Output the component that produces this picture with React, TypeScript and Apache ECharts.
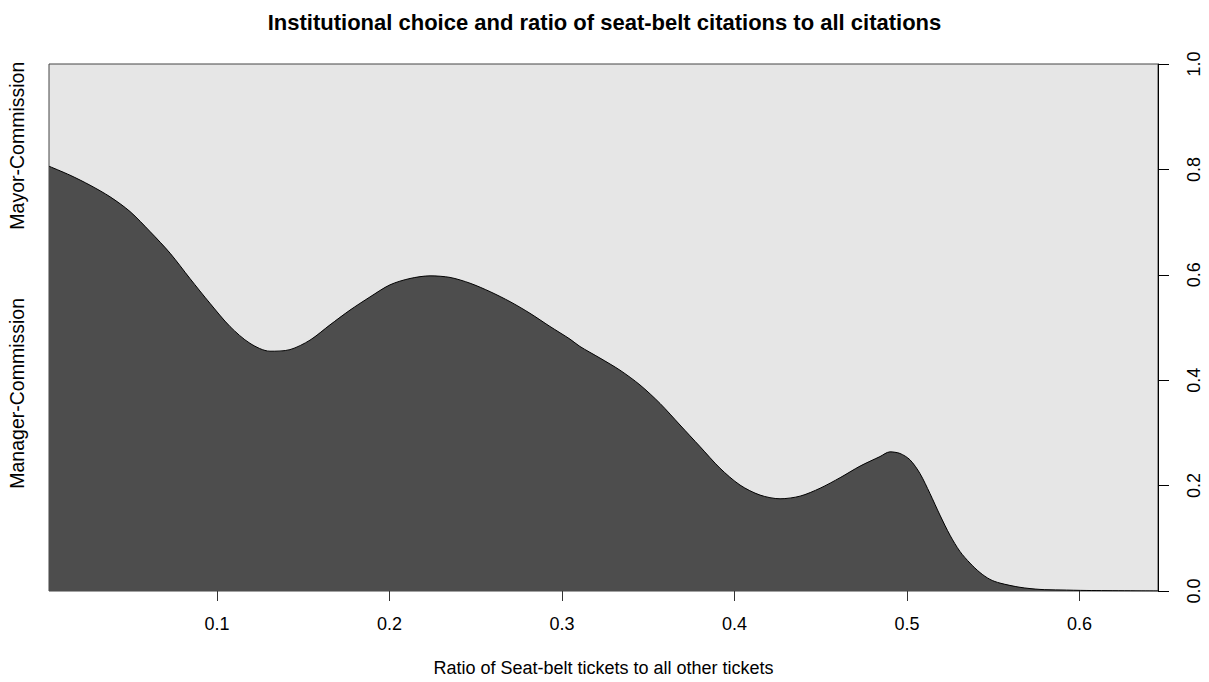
import React, { useEffect, useRef } from "react";
import * as echarts from "echarts";

const titleText = "Institutional choice and ratio of seat-belt citations to all citations";
const xAxisTitle = "Ratio of Seat-belt tickets to all other tickets";
const levelNames = ["Manager-Commission", "Mayor-Commission"];
const levelPositions = [0.375, 0.845];
const xTicks = [0.1, 0.2, 0.3, 0.4, 0.5, 0.6];
const yTicks = [0, 0.2, 0.4, 0.6, 0.8, 1.0];
const xRange = [0.0026, 0.6455];

// conditional probability of Manager-Commission (lower, dark region)
const ratio = [
  0.0026, 0.0148, 0.0264, 0.038, 0.0496, 0.0612, 0.0728, 0.0843, 0.0959, 0.1075,
  0.1191, 0.1307, 0.1423, 0.1539, 0.1655, 0.1771, 0.1887, 0.2003, 0.2119, 0.2235,
  0.2351, 0.2467, 0.2583, 0.2699, 0.2814, 0.293, 0.3046, 0.3104, 0.322, 0.3336,
  0.3452, 0.3568, 0.3684, 0.38, 0.3916, 0.4032, 0.4148, 0.4264, 0.438, 0.4496,
  0.4612, 0.4728, 0.4843, 0.4901, 0.4959, 0.5017, 0.5075, 0.5133, 0.5191, 0.5249,
  0.5307, 0.5365, 0.5423, 0.5481, 0.5539, 0.5655, 0.5771, 0.5887, 0.6043, 0.6455,
];
const managerProb = [
  0.806, 0.789, 0.77, 0.748, 0.72, 0.682, 0.641, 0.593, 0.546, 0.502,
  0.47, 0.455, 0.458, 0.476, 0.505, 0.533, 0.558, 0.581, 0.593, 0.598,
  0.595, 0.584, 0.568, 0.549, 0.527, 0.502, 0.478, 0.464, 0.442, 0.419,
  0.391, 0.356, 0.315, 0.274, 0.233, 0.201, 0.182, 0.175, 0.18, 0.195,
  0.215, 0.237, 0.255, 0.264, 0.261, 0.249, 0.223, 0.185, 0.144, 0.106,
  0.075, 0.053, 0.035, 0.022, 0.015, 0.007, 0.003, 0.002, 0.001, 0.0,
];

const FONT = "'Liberation Sans', Arial, sans-serif";

export default function App() {
  const ref = useRef<HTMLDivElement>(null);
  useEffect(() => {
    if (!ref.current) return;
    const chart = echarts.init(ref.current, null, { renderer: "svg" });
    const data = ratio.map((x, i) => [x, managerProb[i]]);
    chart.setOption({
      animation: false,
      backgroundColor: "#ffffff",
      textStyle: { fontFamily: FONT },
      title: {
        text: titleText,
        left: "center",
        top: 6,
        textStyle: { fontSize: 22, fontWeight: "bold", color: "#000", fontFamily: FONT },
      },
      grid: {
        left: 49,
        right: 51,
        top: 64,
        bottom: 90,
        show: true,
        backgroundColor: "#e6e6e6",
        borderColor: "#444",
        borderWidth: 1,
      },
      xAxis: {
        type: "value",
        min: xRange[0],
        max: xRange[1],
        name: xAxisTitle,
        nameLocation: "middle",
        nameGap: 68,
        nameTextStyle: { fontSize: 18, color: "#000", fontFamily: FONT },
        axisLine: { show: false },
        splitLine: { show: false },
        axisTick: { show: true, length: 10, customValues: xTicks, lineStyle: { color: "#333" } },
        axisLabel: {
          customValues: xTicks,
          fontSize: 18,
          color: "#000",
          margin: 24,
          fontFamily: FONT,
          formatter: (v: number) => v.toFixed(1),
        },
      },
      yAxis: [
        {
          type: "value",
          position: "right",
          min: 0,
          max: 1,
          interval: 0.2,
          axisLine: { show: true, lineStyle: { color: "#000" } },
          axisTick: { show: true, length: 11, customValues: yTicks, lineStyle: { color: "#000" } },
          splitLine: { show: false },
          axisLabel: {
            customValues: yTicks,
            rotate: 90,
            fontSize: 18,
            color: "#000",
            margin: 27,
            fontFamily: FONT,
            formatter: (v: number) => v.toFixed(1),
          },
        },
        {
          type: "value",
          position: "left",
          min: 0,
          max: 1,
          axisLine: { show: false },
          axisTick: { show: false },
          splitLine: { show: false },
          axisLabel: {
            customValues: levelPositions,
            rotate: 90,
            fontSize: 19.5,
            color: "#000",
            margin: 22,
            fontFamily: FONT,
            formatter: (v: number) => {
              const idx = levelPositions.findIndex((p) => Math.abs(p - v) < 1e-6);
              return idx >= 0 ? levelNames[idx] : "";
            },
          },
        },
      ],
      series: [
        {
          type: "line",
          data,
          yAxisIndex: 0,
          showSymbol: false,
          symbol: "none",
          smooth: 0.3,
          clip: true,
          lineStyle: { color: "#000", width: 1 },
          areaStyle: { color: "#4d4d4d", opacity: 1 },
          silent: true,
        },
      ],
    });
    return () => chart.dispose();
  }, []);
  return (
    <div
      ref={ref}
      style={{ position: "fixed", left: 0, top: 0, width: 1209, height: 682 }}
    />
  );
}
